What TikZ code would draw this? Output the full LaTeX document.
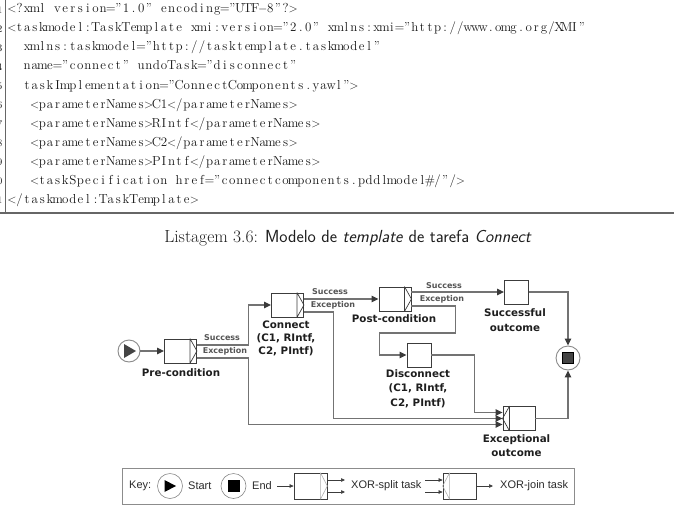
\documentclass[tikz,border=0pt]{standalone}
\usepackage{fontspec}
\usetikzlibrary{arrows.meta,calc}
\newfontfamily\yawlfont{DejaVu Sans}
\newfontfamily\keyfont{Liberation Sans}
\definecolor{lineg}{HTML}{737373}
\definecolor{boxc}{HTML}{3C3C3C}
\definecolor{arrc}{HTML}{3A3A3A}
\definecolor{txtc}{HTML}{1E1E1E}
\definecolor{labc}{HTML}{555555}
\definecolor{lstc}{HTML}{151515}
\definecolor{rulec}{HTML}{666666}
\definecolor{keyc}{HTML}{2A2A2A}
\definecolor{keyline}{HTML}{8C8C8C}
\definecolor{circc}{HTML}{8A8A8A}
\definecolor{endfill}{HTML}{444444}
\ExplSyntaxOn
\dim_new:N \l_rk_col_dim
\dim_set:Nn \l_rk_col_dim {7.6pt}
\cs_new_protected:Npn \rk_char:n #1
  {
    \str_case:nnF {#1}
      {
        { < } { \makebox[\l_rk_col_dim]{$<$} }
        { > } { \makebox[\l_rk_col_dim]{$>$} }
        { - } { \makebox[\l_rk_col_dim]{$-$} }
      }
      { \makebox[\l_rk_col_dim]{#1} }
  }
\NewDocumentCommand \fixcols { m }
  { \str_map_inline:nn {#1} { \rk_char:n {##1} } }
\NewDocumentCommand \fixbox { m }
  { \makebox[\l_rk_col_dim]{#1} }
\ExplSyntaxOff
\newcommand\rkSplit[1]{%
  \draw[deco] ([xshift=-7pt]#1.north east) -- ([xshift=-7pt]#1.south east)
              ([xshift=-7pt]#1.north east) -- (#1.east) -- ([xshift=-7pt]#1.south east);}
\newcommand\rkJoin[1]{%
  \draw[deco] ([xshift=7pt]#1.north west) -- ([xshift=7pt]#1.south west)
              ([xshift=7pt]#1.north west) -- (#1.west) -- ([xshift=7pt]#1.south west);}
\begin{document}
\begin{tikzpicture}[x=1pt,y=-1pt,
  task/.style={draw=boxc, fill=white, line width=0.9pt, minimum width=32pt, minimum height=24pt, inner sep=0pt},
  plaintask/.style={task, minimum width=24pt},
  flow/.style={draw=lineg, line width=1.1pt, -{Triangle[length=7pt,width=6.5pt,color=arrc]}},
  deco/.style={draw=boxc, line width=0.7pt},
  lbl/.style={font=\yawlfont\bfseries\fontsize{10.3}{14.5}\selectfont, text=txtc, align=center, inner sep=0pt},
  cond/.style={font=\yawlfont\bfseries\fontsize{8}{9}\selectfont, text=labc, inner sep=0pt},
  lst/.style={font=\fontsize{13}{15}\selectfont, text=lstc, anchor=west, inner sep=0pt, text height=9pt, text depth=3pt},
  lnum/.style={font=\fontsize{10}{12}\selectfont, text=lstc, anchor=east, inner sep=0pt, text height=7pt, text depth=0pt},
  key/.style={font=\keyfont\fontsize{11}{13}\selectfont, text=keyc, inner sep=0pt, anchor=west},
  ktask/.style={draw=boxc, fill=white, line width=0.7pt, minimum width=33pt, minimum height=26pt, inner sep=0pt},
  kdeco/.style={draw=keyline!70, line width=0.6pt},
  karrow/.style={draw=boxc, line width=0.6pt, -{Triangle[length=4pt,width=3.5pt]}},
]
\useasboundingbox (0,0) rectangle (674,511);
\clip (0,0) rectangle (674,511);

% ---------- listing ----------
\draw[rulec, line width=1pt] (5,0) -- (5,213);
\draw[rulec, line width=1.2pt] (0,213) -- (674,213);
\foreach \n [count=\i from 0] in {1,...,11} {
  \node[lnum] (n\n) at (2.5, 10+19*\i) {\n};
}
\node[lst] (l1) at (8,10) {\fixcols{<?xml version="1.0" encoding="UTF-8"?>}};
\node[lst] (l2) at (8,29) {\fixcols{<taskmodel:TaskTemplate xmi:version="2.0" xmlns:xmi="http://www.omg.org/XMI"}};
\node[lst] (l3) at (23.2,48) {\fixcols{xmlns:taskmodel="http://tasktemplate.taskmodel"}};
\node[lst] (l4) at (23.2,67) {\fixcols{name="connect" undoTask="disconnect"}};
\node[lst] (l5) at (23.2,86) {\fixcols{taskImplementation="ConnectComponents.yawl">}};
\node[lst] (l6) at (30.8,105) {\fixcols{<parameterNames>C1</parameterNames>}};
\node[lst] (l7) at (30.8,124) {\fixcols{<parameterNames>RIntf</parameterNames>}};
\node[lst] (l8) at (30.8,143) {\fixcols{<parameterNames>C2</parameterNames>}};
\node[lst] (l9) at (30.8,162) {\fixcols{<parameterNames>PIntf</parameterNames>}};
\node[lst] (l10) at (30.8,181) {\fixcols{<taskSpecification href="connectcomponents.pddlmodel}\fixbox{\#}\fixcols{/"/>}};
\node[lst] (l11) at (8,200) {\fixcols{</taskmodel:TaskTemplate>}};

% ---------- caption ----------
\node[font=\fontsize{17.5}{20}\selectfont, text=txtc, inner sep=0pt] (cap) at (348,238)
  {\rmfamily Listagem 3.6: \sffamily Modelo de \textit{template} de tarefa \textit{Connect}};

% ---------- diagram ----------
\node[circle, draw=circc, line width=0.9pt, fill=white, minimum size=22pt, inner sep=0pt] (startc) at (129,351) {};
\fill[endfill] (124,344) -- (124,358) -- (136,351) -- cycle;

\node[task] (pre) at (180.5,351) {};
\node[task] (conn) at (287.5,305) {};
\node[task] (post) at (395,299) {};
\node[plaintask] (succ) at (516.5,292) {};
\node[plaintask] (disc) at (419,355) {};
\node[task] (exc) at (519,418.5) {};
\node[circle, draw=circc, line width=0.9pt, fill=white, minimum size=24pt, inner sep=0pt] (endc) at (568,358) {};
\node[draw=black, fill=endfill, line width=0.6pt, minimum size=11pt, inner sep=0pt] (endsq) at (endc) {};

\rkSplit{pre}
\rkSplit{conn}
\rkSplit{post}
\rkJoin{exc}

\draw[flow] (startc.east) -- (pre.west);
\draw[flow] ([yshift=6pt]pre.east) -- ++(51.5,0) |- (conn.west);
\draw[flow] ([yshift=-7pt]pre.east) -- ++(51.5,0) |- ([yshift=-6pt]exc.west);
\draw[flow] ([yshift=6pt]conn.east) -- (post.west);
\draw[flow] ([yshift=-7pt]conn.east) -- ++(29.5,0) |- (exc.west);
\draw[flow] ([yshift=7pt]post.east) -- (succ.west);
\draw[flow] ([yshift=-7pt]post.east) -- ++(44,0) -- ++(0,27) -- ++(-76,0) |- (disc.west);
\draw[flow] (disc.east) -- ++(43,0) |- ([yshift=6pt]exc.west);
\draw[flow] (succ.east) -| (endc.north);
\draw[flow] (exc.east) -| (endc.south);

\node[cond] (s1) at (222,338) {Success};
\node[cond] (e1) at (225,351) {Exception};
\node[cond] (s2) at (330,292) {Success};
\node[cond] (e2) at (333,305) {Exception};
\node[cond] (s3) at (444,286) {Success};
\node[cond] (e3) at (442,299) {Exception};

\node[lbl] (prel) at (181,373) {Pre-condition};
\node[lbl, font=\yawlfont\bfseries\fontsize{10.3}{13}\selectfont] (connl) at (286,338.5) {Connect\\(C1, RIntf,\\C2, PIntf)};
\node[lbl] (postl) at (394,319) {Post-condition};
\node[lbl] (succl) at (515,320) {Successful\\outcome};
\node[lbl] (discl) at (418,388.5) {Disconnect\\(C1, RIntf,\\C2, PIntf)};
\node[lbl] (excl) at (516.5,445.5) {Exceptional\\outcome};

% ---------- key ----------
\node[draw=keyline, line width=0.8pt, minimum width=452pt, minimum height=36pt, inner sep=0pt] (keybox) at (348,486) {};
\node[key] (keyt) at (129,486) {Key:};
\node[circle, draw=circc, line width=0.6pt, minimum size=25pt, inner sep=0pt] (kstart) at (170,486) {};
\fill[black] (164.5,480) -- (164.5,492) -- (176,486) -- cycle;
\node[key] (kstartt) at (188,486) {Start};
\node[circle, draw=circc, line width=0.6pt, minimum size=25pt, inner sep=0pt] (kend) at (233.5,486) {};
\node[fill=black, minimum size=12pt, inner sep=0pt] (kendsq) at (kend) {};
\node[key] (kendt) at (252,486) {End};
\node[ktask] (ksplit) at (310.5,486) {};
\draw[kdeco] ([xshift=-7pt]ksplit.north east) -- ([xshift=-7pt]ksplit.south east)
             ([xshift=-7pt]ksplit.north east) -- (ksplit.east) -- ([xshift=-7pt]ksplit.south east);
\coordinate (ka) at (277,486);
\draw[karrow] (ka) -- (ksplit.west);
\coordinate (ks1) at (345,480);
\coordinate (ks2) at (345,492);
\draw[karrow] ([yshift=6pt]ksplit.east) -- (ks1);
\draw[karrow] ([yshift=-6pt]ksplit.east) -- (ks2);
\node[key] (ksplitt) at (351,486) {XOR-split task};
\node[ktask] (kjoin) at (459.5,486) {};
\draw[kdeco] ([xshift=7pt]kjoin.north west) -- ([xshift=7pt]kjoin.south west)
             ([xshift=7pt]kjoin.north west) -- (kjoin.west) -- ([xshift=7pt]kjoin.south west);
\coordinate (kj1) at (425,480);
\coordinate (kj2) at (425,492);
\draw[karrow] (kj1) -- ([yshift=6pt]kjoin.west);
\draw[karrow] (kj2) -- ([yshift=-6pt]kjoin.west);
\coordinate (kjo) at (493,486);
\draw[karrow] (kjoin.east) -- (kjo);
\node[key] (kjoint) at (500,486) {XOR-join task};
\end{tikzpicture}
\end{document}
